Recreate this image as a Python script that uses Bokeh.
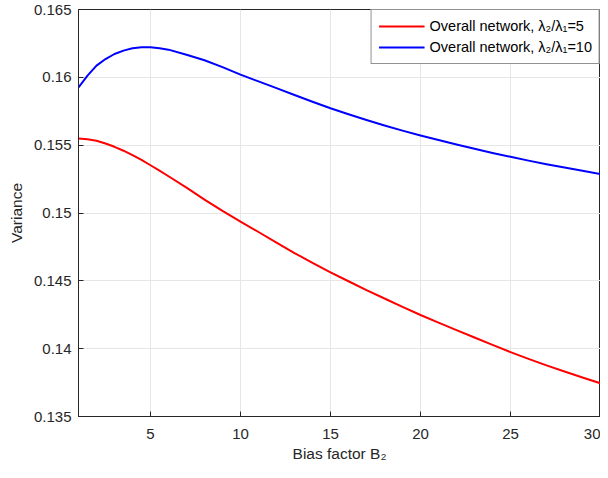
from bokeh.plotting import figure
from bokeh.models import (ColumnDataSource, Range1d, FixedTicker,
                          CustomJSTickFormatter, Legend, LegendItem)
from bokeh.embed import file_html
from bokeh.resources import INLINE

# ---- data ----
bias = [1, 1.5, 2, 2.5, 3, 3.5, 4, 4.5, 5, 5.5, 6, 7, 8, 9, 10, 11, 12, 13, 14, 15,
        16, 17, 18, 19, 20, 21, 22, 23, 24, 25, 26, 27, 28, 29, 30]
var_ratio5 = [0.15549, 0.15543, 0.15532, 0.15512, 0.15488, 0.15459, 0.15426, 0.15391,
              0.15352, 0.15312, 0.15271, 0.15187, 0.15099, 0.15015, 0.14937, 0.14860,
              0.14782, 0.14705, 0.14632, 0.14563, 0.14497, 0.14432, 0.14370, 0.14308,
              0.14248, 0.14192, 0.14137, 0.14082, 0.14028, 0.13975, 0.13925, 0.13877,
              0.13832, 0.13788, 0.13745]
var_ratio10 = [0.15926, 0.16012, 0.16086, 0.16135, 0.16172, 0.16197, 0.16214, 0.16222,
               0.16222, 0.16215, 0.16204, 0.16167, 0.16126, 0.16075, 0.16020, 0.15970,
               0.15920, 0.15870, 0.15820, 0.15772, 0.15728, 0.15686, 0.15645, 0.15607,
               0.15571, 0.15538, 0.15505, 0.15473, 0.15443, 0.15414, 0.15386, 0.15360,
               0.15335, 0.15311, 0.15287]

x_ticks = [5, 10, 15, 20, 25, 30]
y_ticks = [0.135, 0.14, 0.145, 0.15, 0.155, 0.16, 0.165]

label5 = "Overall network, \u03bb\u2082/\u03bb\u2081=5"
label10 = "Overall network, \u03bb\u2082/\u03bb\u2081=10"

FONT = "Liberation Sans"
DARK = "#262626"

p = figure(output_backend="svg", toolbar_location=None,
           frame_width=522, frame_height=407,
           x_range=Range1d(1, 30), y_range=Range1d(0.135, 0.165),
           min_border_left=78, min_border_right=0, min_border_top=9,
           min_border_bottom=60)
p.background_fill_color = "white"
p.border_fill_color = "white"
p.outline_line_color = DARK
p.outline_line_width = 1

src = ColumnDataSource(dict(x=bias, a=var_ratio5, b=var_ratio10))
r1 = p.line("x", "a", source=src, line_color="#ff0000", line_width=2,
            line_join="round")
r2 = p.line("x", "b", source=src, line_color="#0000ff", line_width=2,
            line_join="round")

fmt = CustomJSTickFormatter(code="return parseFloat(tick.toFixed(4)).toString();")

for ax in p.xaxis:
    ax.ticker = FixedTicker(ticks=x_ticks)
for ax in p.yaxis:
    ax.ticker = FixedTicker(ticks=y_ticks)
    ax.formatter = fmt

for ax in list(p.xaxis) + list(p.yaxis):
    ax.major_tick_in = 5
    ax.major_tick_out = 0
    ax.minor_tick_line_color = None
    ax.axis_line_color = DARK
    ax.major_tick_line_color = DARK
    ax.major_label_text_font = FONT
    ax.major_label_text_font_size = "15px"
    ax.major_label_text_color = DARK
    ax.axis_label_text_font = FONT
    ax.axis_label_text_font_size = "15.5px"
    ax.axis_label_text_font_style = "normal"
    ax.axis_label_text_color = DARK

p.xaxis.axis_label = "Bias factor B\u2082"
p.yaxis.axis_label = "Variance"
p.xaxis.major_label_standoff = 12
p.xaxis.axis_label_standoff = 3
p.yaxis.major_label_standoff = 7
p.yaxis.axis_label_standoff = 6

p.xgrid.ticker = FixedTicker(ticks=x_ticks)
p.ygrid.ticker = FixedTicker(ticks=y_ticks)
p.grid.grid_line_color = "#e6e6e6"
p.grid.grid_line_width = 1

legend = Legend(items=[LegendItem(label=label5, renderers=[r1]),
                       LegendItem(label=label10, renderers=[r2])],
                location="top_right", margin=0, padding=7, spacing=3,
                glyph_width=46, glyph_height=18, label_standoff=5,
                label_text_font=FONT, label_text_font_size="14.5px",
                label_text_color="black",
                border_line_color=DARK, border_line_width=1,
                background_fill_color="white", background_fill_alpha=1)
p.add_layout(legend)

open("out.html", "w").write(file_html(p, INLINE))
